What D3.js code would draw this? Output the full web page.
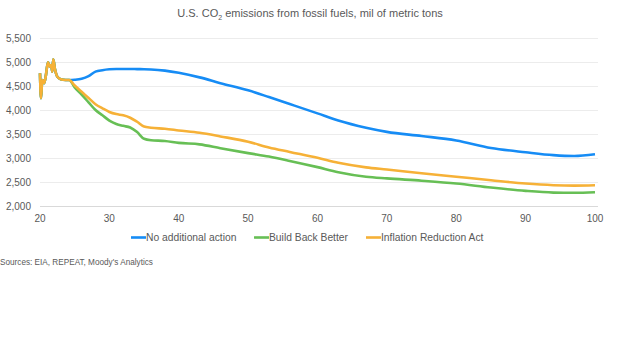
<!DOCTYPE html>
<html>
<head>
<meta charset="utf-8">
<script src="https://cdn.jsdelivr.net/npm/d3@7"></script>
<style>
  body { margin: 0; background: #fff; }
  text { font-family: "Liberation Sans", Arial, sans-serif; fill: #595959; }
</style>
</head>
<body>
<svg id="chart" width="619" height="340"></svg>
<script>
// x values: years since 2000 (early quarters are noisy history)
const years = [20.0, 20.14, 20.33, 20.58, 20.82, 21.15, 21.4, 21.63, 21.77, 21.91, 22.16, 22.49, 22.98, 23.7, 24.2,
  25, 26, 27, 28, 29, 30, 31, 32, 33, 34, 35, 36, 38, 40, 43, 46, 50, 53, 56, 60, 63, 67, 70, 75, 80, 85, 90, 94, 97, 100];

const history = [4775, 4254, 4635, 4567, 4705, 5004, 4913, 4948, 4810, 5066, 4858, 4705, 4650, 4635, 4635];

const noAction = history.concat([4640, 4660, 4715, 4810, 4840, 4858, 4865, 4865, 4865, 4862, 4860, 4855, 4830, 4785,
  4690, 4570, 4420, 4280, 4135, 3940, 3790, 3640, 3555, 3469, 3375, 3220, 3130, 3070, 3052, 3088]);

const buildBack = history.concat([4480, 4330, 4170, 4010, 3900, 3790, 3720, 3680, 3645, 3550, 3410, 3380, 3365, 3325,
  3295, 3215, 3112, 3040, 2950, 2820, 2715, 2620, 2585, 2538, 2480, 2395, 2325, 2290, 2285, 2296]);

const inflation = history.concat([4520, 4390, 4260, 4130, 4045, 3970, 3925, 3900, 3850, 3765, 3665, 3640, 3620, 3585,
  3535, 3460, 3350, 3230, 3137, 3015, 2910, 2815, 2770, 2692, 2620, 2547, 2478, 2444, 2435, 2442]);

const xTicks = [20, 30, 40, 50, 60, 70, 80, 90, 100];
const yTicks = [2000, 2500, 3000, 3500, 4000, 4500, 5000, 5500];

const series = [
  { name: "No additional action", values: noAction, color: "#168cf5" },
  { name: "Build Back Better", values: buildBack, color: "#67bf55" },
  { name: "Inflation Reduction Act", values: inflation, color: "#f6b137" }
];

const svg = d3.select("#chart");

const x = d3.scaleLinear().domain([20, 100]).range([40, 595]);
const y = d3.scaleLinear().domain([2000, 5500]).range([206.5, 38.5]);

// gridlines
svg.append("g")
  .selectAll("line")
  .data(yTicks)
  .join("line")
  .attr("x1", 40)
  .attr("x2", 598)
  .attr("y1", d => y(d))
  .attr("y2", d => y(d))
  .attr("stroke", d => d === 2000 ? "#d9d9d9" : "#ececec")
  .attr("stroke-width", 1);

// y axis labels
svg.append("g")
  .selectAll("text")
  .data(yTicks)
  .join("text")
  .attr("x", 31)
  .attr("y", d => y(d) + 3.5)
  .attr("text-anchor", "end")
  .attr("font-size", "10px")
  .text(d3.format(","));

// x axis labels
svg.append("g")
  .selectAll("text")
  .data(xTicks)
  .join("text")
  .attr("x", d => x(d))
  .attr("y", 222)
  .attr("text-anchor", "middle")
  .attr("font-size", "10px")
  .text(d => d);

// lines
const line = d3.line()
  .x((d, i) => x(years[i]))
  .y(d => y(d))
  .curve(d3.curveMonotoneX);

svg.append("g")
  .selectAll("path")
  .data(series)
  .join("path")
  .attr("fill", "none")
  .attr("stroke", d => d.color)
  .attr("stroke-width", 2.6)
  .attr("stroke-linejoin", "round")
  .attr("d", d => line(d.values));

// title
const title = svg.append("text")
  .attr("x", 310)
  .attr("y", 17)
  .attr("text-anchor", "middle")
  .attr("font-size", "11px");
title.append("tspan").text("U.S. CO");
title.append("tspan").attr("font-size", "7px").attr("dy", 3).text("2");
title.append("tspan").attr("dy", -3).text(" emissions from fossil fuels, mil of metric tons");

// legend
const legendPos = [131, 254, 366];
const legend = svg.append("g")
  .selectAll("g")
  .data(series)
  .join("g")
  .attr("transform", (d, i) => `translate(${legendPos[i]}, 237.5)`);

legend.append("line")
  .attr("x1", 0)
  .attr("x2", 15)
  .attr("stroke", d => d.color)
  .attr("stroke-width", 2.6);

legend.append("text")
  .attr("x", 15)
  .attr("y", 3.7)
  .attr("font-size", "10.3px")
  .text(d => d.name);

// source note
svg.append("text")
  .attr("x", 0)
  .attr("y", 265)
  .attr("font-size", "8.2px")
  .text("Sources: EIA, REPEAT, Moody's Analytics");
</script>
</body>
</html>
